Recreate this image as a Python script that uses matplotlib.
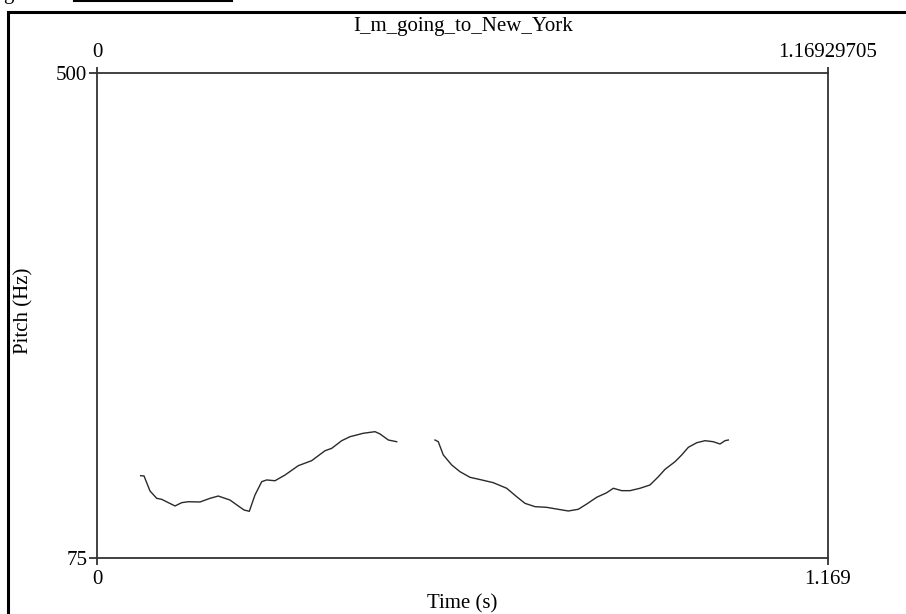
import numpy as np
import matplotlib.pyplot as plt
from matplotlib.patches import Rectangle
from matplotlib.lines import Line2D

plt.rcParams['font.family'] = ['Liberation Serif', 'DejaVu Serif']

title = "I_m_going_to_New_York"
t_end = 1.16929705
f_min, f_max = 75, 500

# pitch contour, first voiced stretch
t1 = [0.0699, 0.0752, 0.0848, 0.0955, 0.1035, 0.1141, 0.1248, 0.1355, 0.1460,
      0.1648, 0.1808, 0.1940, 0.2127, 0.2260, 0.2351, 0.2436, 0.2527, 0.2635,
      0.2715, 0.2847, 0.3007, 0.3220, 0.3434, 0.3647, 0.3754, 0.3914, 0.4047,
      0.4154, 0.4260, 0.4447, 0.4527, 0.4660, 0.4794]
f1 = [147.1, 146.9, 133.7, 127.3, 126.4, 123.5, 120.6, 123.5, 124.3,
      124.1, 127.3, 129.3, 125.8, 120.6, 117.1, 115.9, 130.2, 141.9,
      143.4, 142.7, 147.7, 155.9, 160.3, 169.0, 171.1, 177.8, 181.3,
      182.8, 184.3, 185.7, 183.7, 178.4, 176.9]

# second voiced stretch
t2 = [0.5407, 0.5459, 0.5539, 0.5674, 0.5807, 0.5967, 0.6154, 0.6339, 0.6553,
      0.6713, 0.6846, 0.7006, 0.7193, 0.7353, 0.7539, 0.7699, 0.7833, 0.7993,
      0.8153, 0.8259, 0.8393, 0.8526, 0.8686, 0.8846, 0.8979, 0.9086, 0.9246,
      0.9353, 0.9459, 0.9593, 0.9726, 0.9858, 0.9965, 1.0045, 1.0098]
f2 = [178.4, 176.9, 165.3, 156.5, 150.6, 145.7, 143.4, 141.0, 136.1,
      128.7, 122.9, 120.0, 119.4, 117.9, 116.2, 117.7, 122.3, 128.2,
      132.2, 136.1, 134.0, 134.0, 136.1, 139.0, 146.2, 152.7, 159.4,
      165.3, 172.0, 176.0, 177.8, 176.9, 174.9, 177.8, 178.4]

W, H = 906, 614
fig = plt.figure(figsize=(W / 100, H / 100), dpi=100)
ax = fig.add_axes([97 / W, (H - 558) / H, 731 / W, 485 / H])

ax.plot(t1, f1, color='#2a2a2a', lw=1.0)
ax.plot(t2, f2, color='#2a2a2a', lw=1.0)

ax.set_xlim(0, t_end)
ax.set_ylim(f_min, f_max)

for s in ax.spines.values():
    s.set_color('#333333')
    s.set_linewidth(1.3)

fs = 15
ax.set_xticks([0, t_end])
ax.set_xticklabels(["0", "1.169"], fontsize=fs)
ax.set_yticks([f_min, f_max])
ax.set_yticklabels([str(f_min), str(f_max)], fontsize=fs)
ax.tick_params(axis='x', direction='out', length=5, width=1.3,
               color='#333333', pad=4)
ax.tick_params(axis='y', direction='out', length=6, width=1.3,
               color='#333333', pad=1)

top = ax.secondary_xaxis('top')
top.set_xticks([0, t_end])
top.set_xticklabels(["0", "1.16929705"], fontsize=fs)
top.tick_params(direction='out', length=4, width=1.3, color='#333333', pad=4)
top.spines['top'].set_visible(False)

ax.set_xlabel("Time (s)", fontsize=fs)
ax.xaxis.set_label_coords(0.5, -0.075)
ax.set_ylabel("Pitch (Hz)", fontsize=fs)
ax.yaxis.set_label_coords(-0.087, 0.51)
fig.text(463 / W, 1 - 27 / H, title, fontsize=fs, ha='center', va='center')

# outer frame around the figure, cut by the page edge
fig.patches.append(Rectangle((8 / W, -0.05), 1.0, 1 - 12 / H + 0.05,
                             transform=fig.transFigure, fill=False,
                             edgecolor='black', lw=2.2))
# leftover of the line above
fig.text(3 / W, 1 + 6 / H, "ge", fontsize=fs, ha='left', va='center')
fig.lines.append(Line2D([74 / W, 232 / W], [1 - 1 / H, 1 - 1 / H],
                        transform=fig.transFigure, color='black', lw=1.5))

fig.savefig("out.png", dpi=100)
